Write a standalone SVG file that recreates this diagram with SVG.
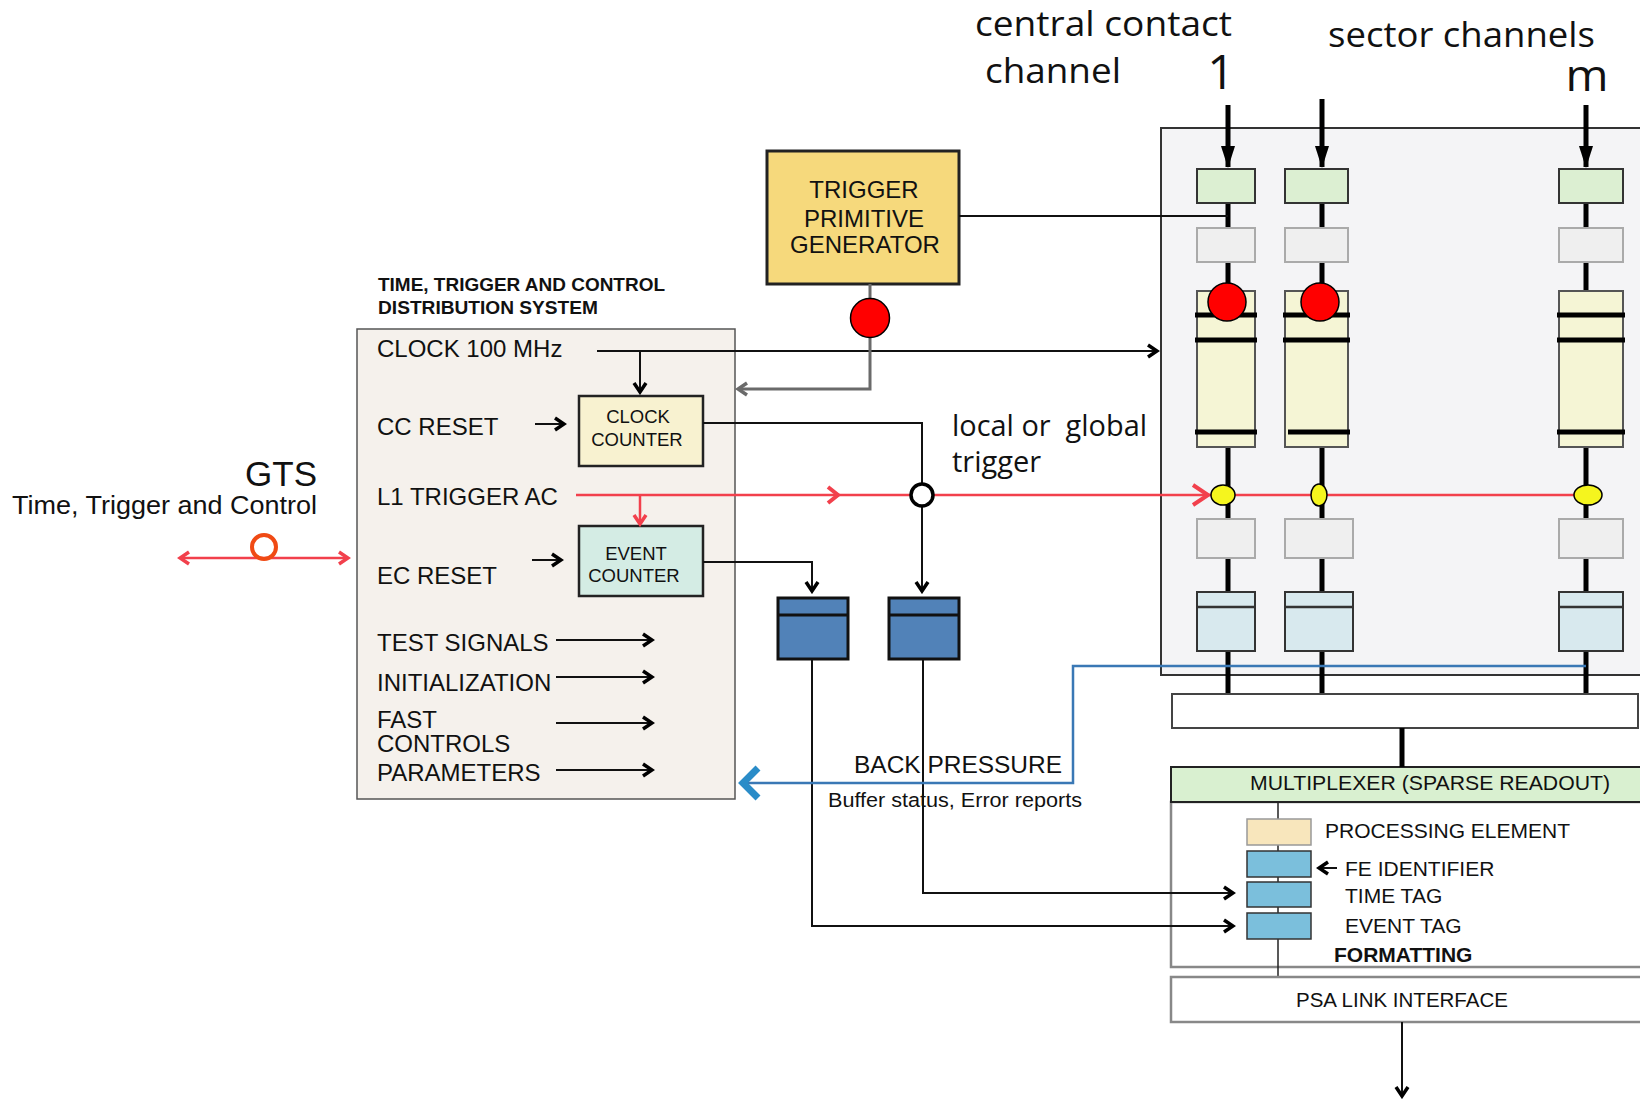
<svg xmlns="http://www.w3.org/2000/svg" width="1640" height="1099" viewBox="0 0 1640 1099">
<style>
text{font-family:"Liberation Sans",Arial,sans-serif;fill:#111}
.hum{font-family:"Open Sans","Noto Sans",sans-serif;fill:#111}
.ttc{font-size:24px}
.thick{stroke:#000;stroke-width:5;fill:none}
.green{fill:#dcefd2;stroke:#333;stroke-width:2}
.grey{fill:#efefef;stroke:#aaa;stroke-width:2}
.yel{fill:#f5f5d5;stroke:#555;stroke-width:2}
.bar{stroke:#000;stroke-width:5}
.lblue{fill:#d8e9ee;stroke:#333;stroke-width:2}
.ell{fill:#f5f51e;stroke:#000;stroke-width:1.5}
.reddot{fill:#f00;stroke:#000;stroke-width:1.5}
.ln{stroke:#111;stroke-width:2;fill:none}
.red{stroke:#f2404c;stroke-width:2.5;fill:none}
.buf{fill:#5182b8;stroke:#111;stroke-width:3}
.tag{fill:#7bbfdc;stroke:#333;stroke-width:1.5}
</style>
<defs>
<marker id="chev" viewBox="0 0 16 16" markerUnits="userSpaceOnUse" markerWidth="16" markerHeight="16" refX="13" refY="8" orient="auto"><path d="M4,2 L13,8 L4,14" fill="none" stroke="#000" stroke-width="3.5"/></marker>
<marker id="chevr" viewBox="0 0 16 16" markerUnits="userSpaceOnUse" markerWidth="16" markerHeight="16" refX="13" refY="8" orient="auto-start-reverse"><path d="M4,2 L13,8 L4,14" fill="none" stroke="#f2404c" stroke-width="3.5"/></marker>
<marker id="chevg" viewBox="0 0 16 16" markerUnits="userSpaceOnUse" markerWidth="16" markerHeight="16" refX="13" refY="8" orient="auto"><path d="M4,2 L13,8 L4,14" fill="none" stroke="#6a6a6a" stroke-width="3.5"/></marker>
<marker id="tri" viewBox="0 0 22 14" markerUnits="userSpaceOnUse" markerWidth="22" markerHeight="14" refX="21" refY="7" orient="auto"><path d="M0,0 L22,7 L0,14 z" fill="#000"/></marker>
</defs>

<!-- top labels -->
<g id="labels-top">
<text class="hum" x="975" y="36" font-size="35" textLength="257" lengthAdjust="spacingAndGlyphs">central contact</text>
<text class="hum" x="985" y="83" font-size="35" textLength="136" lengthAdjust="spacingAndGlyphs">channel</text>
<text class="hum" x="1221" y="89" font-size="48" text-anchor="middle">1</text>
<text class="hum" x="1328" y="47" font-size="34" textLength="267" lengthAdjust="spacingAndGlyphs">sector channels</text>
<text class="hum" x="1587" y="91" font-size="44" text-anchor="middle" textLength="43" lengthAdjust="spacingAndGlyphs">m</text>
</g>

<!-- front-end big box -->
<g id="fe-box">
<rect x="1161" y="128" width="490" height="547" fill="#f4f4f6" stroke="#333" stroke-width="2"/>
</g>

<!-- GTS -->
<g id="gts">
<text x="317" y="486" font-size="35" text-anchor="end">GTS</text>
<text x="12" y="514" font-size="26" textLength="305" lengthAdjust="spacingAndGlyphs">Time, Trigger and Control</text>
</g>

<!-- TTC box -->
<g id="ttc">
<text x="378" y="291" font-size="19" font-weight="bold" textLength="287" lengthAdjust="spacingAndGlyphs">TIME, TRIGGER AND CONTROL</text>
<text x="378" y="314" font-size="19" font-weight="bold" textLength="220" lengthAdjust="spacingAndGlyphs">DISTRIBUTION SYSTEM</text>
<rect x="357" y="329" width="378" height="470" fill="#f5f1ec" stroke="#555" stroke-width="1.5"/>
<text class="ttc" x="377" y="357">CLOCK 100 MHz</text>
<text class="ttc" x="377" y="435">CC RESET</text>
<text class="ttc" x="377" y="505">L1 TRIGGER AC</text>
<text class="ttc" x="377" y="584">EC RESET</text>
<text class="ttc" x="377" y="651">TEST SIGNALS</text>
<text class="ttc" x="377" y="691">INITIALIZATION</text>
<text class="ttc" x="377" y="728">FAST</text>
<text class="ttc" x="377" y="752">CONTROLS</text>
<text class="ttc" x="377" y="781">PARAMETERS</text>
</g>

<g id="clock-counter">
<rect x="579" y="396" width="124" height="70" fill="#f8f2d0" stroke="#222" stroke-width="2.5"/>
<text x="638" y="423" font-size="18.5" text-anchor="middle">CLOCK</text>
<text x="637" y="446" font-size="18.5" text-anchor="middle">COUNTER</text>
</g>
<g id="event-counter">
<rect x="579" y="526" width="124" height="70" fill="#d4ece4" stroke="#222" stroke-width="2.5"/>
<text x="636" y="560" font-size="18.5" text-anchor="middle">EVENT</text>
<text x="634" y="582" font-size="18.5" text-anchor="middle">COUNTER</text>
</g>

<g id="tpg">
<rect x="767" y="151" width="192" height="133" fill="#f6d97c" stroke="#222" stroke-width="3"/>
<text x="864" y="198" font-size="24" text-anchor="middle">TRIGGER</text>
<text x="864" y="227" font-size="24" text-anchor="middle">PRIMITIVE</text>
<text x="865" y="253" font-size="24" text-anchor="middle">GENERATOR</text>
</g>

<g id="buffer1"><rect class="buf" x="778" y="598" width="70" height="61"/><line x1="778" y1="615" x2="848" y2="615" stroke="#111" stroke-width="3"/></g>
<g id="buffer2"><rect class="buf" x="889" y="598" width="70" height="61"/><line x1="889" y1="615" x2="959" y2="615" stroke="#111" stroke-width="3"/></g>

<!-- channels -->
<g id="channel-1">
<line class="thick" x1="1228" y1="105" x2="1228" y2="167" marker-end="url(#tri)"/>
<line class="thick" x1="1228" y1="203" x2="1228" y2="228"/>
<line class="thick" x1="1228" y1="262" x2="1228" y2="291"/>
<line class="thick" x1="1228" y1="447" x2="1228" y2="519"/>
<line class="thick" x1="1228" y1="558" x2="1228" y2="592"/>
<line class="thick" x1="1228" y1="651" x2="1228" y2="694"/>
<rect class="green" x="1197" y="169" width="58" height="34"/>
<rect class="grey" x="1197" y="228" width="58" height="34"/>
<rect class="yel" x="1197" y="291" width="58" height="156"/>
<line class="bar" x1="1195" y1="315" x2="1257" y2="315"/>
<line class="bar" x1="1195" y1="340" x2="1257" y2="340"/>
<line class="bar" x1="1195" y1="432" x2="1257" y2="432"/>
<rect class="grey" x="1197" y="519" width="58" height="39"/>
<rect class="lblue" x="1197" y="592" width="58" height="59"/>
<line x1="1197" y1="607" x2="1255" y2="607" stroke="#333" stroke-width="2.5"/>
</g>
<g id="channel-2">
<line class="thick" x1="1322" y1="99" x2="1322" y2="167" marker-end="url(#tri)"/>
<line class="thick" x1="1322" y1="203" x2="1322" y2="228"/>
<line class="thick" x1="1322" y1="262" x2="1322" y2="291"/>
<line class="thick" x1="1322" y1="447" x2="1322" y2="519"/>
<line class="thick" x1="1322" y1="558" x2="1322" y2="592"/>
<line class="thick" x1="1322" y1="651" x2="1322" y2="694"/>
<rect class="green" x="1285" y="169" width="63" height="34"/>
<rect class="grey" x="1285" y="228" width="63" height="34"/>
<rect class="yel" x="1285" y="291" width="63" height="156"/>
<line class="bar" x1="1283" y1="315" x2="1350" y2="315"/>
<line class="bar" x1="1283" y1="340" x2="1350" y2="340"/>
<line class="bar" x1="1288" y1="432" x2="1350" y2="432"/>
<rect class="grey" x="1285" y="519" width="68" height="39"/>
<rect class="lblue" x="1285" y="592" width="68" height="59"/>
<line x1="1285" y1="607" x2="1353" y2="607" stroke="#333" stroke-width="2.5"/>
</g>
<g id="channel-m">
<line class="thick" x1="1586" y1="105" x2="1586" y2="167" marker-end="url(#tri)"/>
<line class="thick" x1="1586" y1="203" x2="1586" y2="228"/>
<line class="thick" x1="1586" y1="262" x2="1586" y2="291"/>
<line class="thick" x1="1586" y1="447" x2="1586" y2="519"/>
<line class="thick" x1="1586" y1="558" x2="1586" y2="592"/>
<line class="thick" x1="1586" y1="651" x2="1586" y2="694"/>
<rect class="green" x="1559" y="169" width="64" height="34"/>
<rect class="grey" x="1559" y="228" width="64" height="34"/>
<rect class="yel" x="1559" y="291" width="64" height="156"/>
<line class="bar" x1="1557" y1="315" x2="1625" y2="315"/>
<line class="bar" x1="1557" y1="340" x2="1625" y2="340"/>
<line class="bar" x1="1557" y1="432" x2="1625" y2="432"/>
<rect class="grey" x="1559" y="519" width="64" height="39"/>
<rect class="lblue" x="1559" y="592" width="64" height="59"/>
<line x1="1559" y1="607" x2="1623" y2="607" stroke="#333" stroke-width="2.5"/>
</g>

<g id="collector"><rect x="1172" y="694" width="466" height="34" fill="#fff" stroke="#444" stroke-width="2"/></g>

<g id="multiplexer">
<rect x="1171" y="802" width="480" height="165" fill="#fff" stroke="#888" stroke-width="2.5"/>
<rect x="1171" y="767" width="480" height="35" fill="#d9f0d0" stroke="#222" stroke-width="2"/>
<text x="1250" y="790" font-size="21" textLength="360" lengthAdjust="spacingAndGlyphs">MULTIPLEXER (SPARSE READOUT)</text>
<line x1="1278" y1="802" x2="1278" y2="977" stroke="#222" stroke-width="1.5"/>
<rect x="1247" y="819" width="64" height="26" fill="#f8e6bc" stroke="#999" stroke-width="1.5"/>
<rect class="tag" x="1247" y="851" width="64" height="26"/>
<rect class="tag" x="1247" y="882" width="64" height="25"/>
<rect class="tag" x="1247" y="913" width="64" height="26"/>
<text x="1325" y="838" font-size="21">PROCESSING ELEMENT</text>
<text x="1345" y="876" font-size="21">FE IDENTIFIER</text>
<text x="1345" y="903" font-size="21">TIME TAG</text>
<text x="1345" y="933" font-size="21">EVENT TAG</text>
<text x="1334" y="962" font-size="21" font-weight="bold">FORMATTING</text>
</g>

<g id="psa">
<rect x="1171" y="977" width="480" height="45" fill="#fff" stroke="#888" stroke-width="2.5"/>
<text x="1296" y="1007" font-size="20.5">PSA LINK INTERFACE</text>
</g>

<!-- connectors -->
<g id="connectors">
<line class="red" x1="180" y1="558" x2="348" y2="558" marker-start="url(#chevr)" marker-end="url(#chevr)"/>
<circle cx="264" cy="547" r="12" fill="none" stroke="#f04a14" stroke-width="4"/>
<line class="ln" x1="597" y1="351" x2="1157" y2="351" marker-end="url(#chev)"/>
<line class="ln" x1="640" y1="351" x2="640" y2="392" marker-end="url(#chev)"/>
<line class="ln" x1="535" y1="424" x2="564" y2="424" marker-end="url(#chev)"/>
<line class="ln" x1="532" y1="560" x2="561" y2="560" marker-end="url(#chev)"/>
<line class="ln" x1="556" y1="640" x2="652" y2="640" marker-end="url(#chev)"/>
<line class="ln" x1="556" y1="677" x2="652" y2="677" marker-end="url(#chev)"/>
<line class="ln" x1="556" y1="723" x2="652" y2="723" marker-end="url(#chev)"/>
<line class="ln" x1="556" y1="770" x2="652" y2="770" marker-end="url(#chev)"/>
<line class="ln" x1="959" y1="216" x2="1228" y2="216"/>
<path d="M870,284 V389 H738" fill="none" stroke="#6a6a6a" stroke-width="3" marker-end="url(#chevg)"/>
<circle class="reddot" cx="870" cy="318" r="19.5"/>
<circle class="reddot" cx="1227" cy="302" r="19"/>
<circle class="reddot" cx="1320" cy="302" r="19"/>
<line class="red" x1="576" y1="495" x2="1586" y2="495"/>
<path d="M828,487 L838,495 L828,503" fill="none" stroke="#f2404c" stroke-width="4"/>
<path d="M1193,485 L1208,495 L1193,505" fill="none" stroke="#f2404c" stroke-width="4"/>
<line class="red" x1="640" y1="495" x2="640" y2="524" marker-end="url(#chevr)"/>
<path class="ln" d="M703,423 H922 V591" marker-end="url(#chev)"/>
<path class="ln" d="M703,562 H812 V591" marker-end="url(#chev)"/>
<circle cx="922" cy="495" r="11" fill="#fff" stroke="#000" stroke-width="3.5"/>
<ellipse class="ell" cx="1223" cy="495" rx="12" ry="10"/>
<ellipse class="ell" cx="1319" cy="495" rx="8" ry="11"/>
<ellipse class="ell" cx="1588" cy="495" rx="14" ry="10"/>
<path class="ln" d="M923,659 V893 H1233" marker-end="url(#chev)"/>
<path class="ln" d="M812,659 V926 H1233" marker-end="url(#chev)"/>
<line class="ln" x1="1337" y1="868" x2="1319" y2="868" stroke-width="2.5" marker-end="url(#chev)"/>
<path d="M1586,666 H1073 V783 H745" fill="none" stroke="#3a78b5" stroke-width="2.5"/>
<path d="M758,768 L743,783 L758,798" fill="none" stroke="#2a8cc8" stroke-width="7"/>
<line class="thick" x1="1402" y1="728" x2="1402" y2="767" stroke-width="4"/>
<line class="ln" x1="1402" y1="1022" x2="1402" y2="1096" marker-end="url(#chev)"/>
</g>

<g id="labels-mid">
<text class="hum" x="952" y="436" font-size="29" textLength="195" lengthAdjust="spacingAndGlyphs" xml:space="preserve">local or  global</text>
<text class="hum" x="952" y="472" font-size="29">trigger</text>
<text x="854" y="773" font-size="23" textLength="208" lengthAdjust="spacingAndGlyphs">BACK PRESSURE</text>
<text x="828" y="807" font-size="20.5" textLength="254" lengthAdjust="spacingAndGlyphs">Buffer status, Error reports</text>
</g>
</svg>
